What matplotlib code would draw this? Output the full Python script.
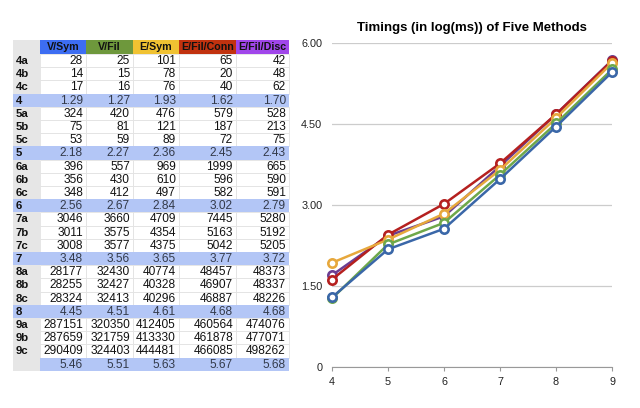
import numpy as np
import matplotlib
matplotlib.use("Agg")
import matplotlib.pyplot as plt
from matplotlib.patches import Rectangle

plt.rcParams['font.family'] = ['Liberation Sans', 'DejaVu Sans']

methods = ["V/Sym", "V/Fil", "E/Sym", "E/Fil/Conn", "E/Fil/Disc"]
row_labels = ["4a", "4b", "4c", "4",
              "5a", "5b", "5c", "5",
              "6a", "6b", "6c", "6",
              "7a", "7b", "7c", "7",
              "8a", "8b", "8c", "8",
              "9a", "9b", "9c", ""]
summary_rows = [3, 7, 11, 15, 19, 23]

# raw timings (ms) per run
raw_v_sym = [28, 14, 17, 324, 75, 53, 396, 356, 348, 3046, 3011, 3008,
             28177, 28255, 28324, 287151, 287659, 290409]
raw_v_fil = [25, 15, 16, 420, 81, 59, 557, 430, 412, 3660, 3575, 3577,
             32430, 32427, 32413, 320350, 321759, 324403]
raw_e_sym = [101, 78, 76, 476, 121, 89, 969, 610, 497, 4709, 4354, 4375,
             40774, 40328, 40296, 412405, 413330, 444481]
raw_e_conn = [65, 20, 40, 579, 187, 72, 1999, 596, 582, 7445, 5163, 5042,
              48457, 46907, 46887, 460564, 461878, 466085]
raw_e_disc = [42, 48, 62, 528, 213, 75, 665, 590, 591, 5280, 5192, 5205,
              48373, 48337, 48226, 474076, 477071, 498262]

# log(ms) summaries, as shown in the sheet
sizes = [4, 5, 6, 7, 8, 9]
log_v_sym = [1.29, 2.18, 2.56, 3.48, 4.45, 5.46]
log_v_fil = [1.27, 2.27, 2.67, 3.56, 4.51, 5.51]
log_e_sym = [1.93, 2.36, 2.84, 3.65, 4.61, 5.63]
log_e_conn = [1.62, 2.45, 3.02, 3.77, 4.68, 5.67]
log_e_disc = [1.70, 2.43, 2.79, 3.72, 4.68, 5.68]

header_colors = ["#3d6df2", "#6e983c", "#f0c232", "#c1320f", "#a046ea"]
line_colors = ["#3a67a8", "#6ea84a", "#e7a83c", "#b5201f", "#6b3e92"]

raw = [raw_v_sym, raw_v_fil, raw_e_sym, raw_e_conn, raw_e_disc]
logs = [log_v_sym, log_v_fil, log_e_sym, log_e_conn, log_e_disc]

fig = plt.figure(figsize=(6.4, 4.08), dpi=100)

# ---- table (drawn in pixel coords) ----
tab = fig.add_axes([0, 0, 1, 1])
tab.set_xlim(0, 640)
tab.set_ylim(408, 0)
tab.axis("off")

col_x = [13, 40, 86, 133, 179, 236, 289]
top = 40
hh = 14
rh = 13.2
fs = 8.6

# header
tab.add_patch(Rectangle((col_x[0], top), col_x[1] - col_x[0], hh, fc="#e6e6e6", ec="none"))
for j, m in enumerate(methods):
    tab.add_patch(Rectangle((col_x[j + 1], top), col_x[j + 2] - col_x[j + 1], hh,
                            fc=header_colors[j], ec="none"))
    tab.text((col_x[j + 1] + col_x[j + 2]) / 2, top + hh / 2 + 0.5, m,
             ha="center", va="center", fontsize=7.7, fontweight="bold", color="#111111")

k = 0
for i, lab in enumerate(row_labels):
    y0 = top + hh + rh * i
    is_sum = i in summary_rows
    if is_sum:
        tab.add_patch(Rectangle((col_x[1], y0), col_x[-1] - col_x[1], rh, fc="#b3c6f6", ec="none"))
        tab.add_patch(Rectangle((col_x[0], y0), col_x[1] - col_x[0], rh,
                                fc="#b3c6f6" if lab else "#e6e6e6", ec="none"))
    else:
        tab.add_patch(Rectangle((col_x[0], y0), col_x[1] - col_x[0], rh, fc="#e6e6e6", ec="none"))
        for j in range(5):
            tab.add_patch(Rectangle((col_x[j + 1], y0), col_x[j + 2] - col_x[j + 1], rh,
                                    fc="white", ec="#e2e2e2", lw=0.6))
    tab.text(col_x[0] + 3, y0 + rh / 2 + 0.5, lab, ha="left", va="center",
             fontsize=8.2, fontweight="bold", color="#111111")
    for j in range(5):
        if is_sum:
            s = "%.2f" % logs[j][summary_rows.index(i)]
            c = "#333a4a"
        else:
            s = str(raw[j][k])
            c = "#111111"
        tab.text(col_x[j + 2] - 3, y0 + rh / 2 + 0.5, s, ha="right", va="center",
                 fontsize=fs, color=c)
    if not is_sum:
        k += 1

# ---- line chart ----
ax = fig.add_axes([332 / 640, 1 - 367 / 408, 280 / 640, 324 / 408])
for j in reversed(range(5)):
    ax.plot(sizes, logs[j], color=line_colors[j], lw=1.8, marker="o", ms=6,
            mfc="white", mec=line_colors[j], mew=1.9, zorder=3 + (4 - j), clip_on=False)

ax.set_xlim(4, 9)
ax.set_ylim(0, 6)
ax.set_yticks([0, 1.5, 3, 4.5, 6])
ax.set_yticklabels(["0", "1.50", "3.00", "4.50", "6.00"])
ax.set_xticks(sizes)
ax.grid(axis="y", color="#cccccc", lw=0.9)
ax.set_axisbelow(True)
for s in ["top", "right", "left"]:
    ax.spines[s].set_visible(False)
ax.spines["bottom"].set_color("#999999")
ax.tick_params(axis="y", length=0, pad=7, labelsize=7.8, labelcolor="#222222")
ax.tick_params(axis="x", length=3, color="#999999", pad=4, labelsize=7.8, labelcolor="#222222")
ax.set_title("Timings (in log(ms)) of Five Methods", fontsize=9.5, fontweight="bold",
             pad=9)

fig.savefig("out.png", dpi=100)
